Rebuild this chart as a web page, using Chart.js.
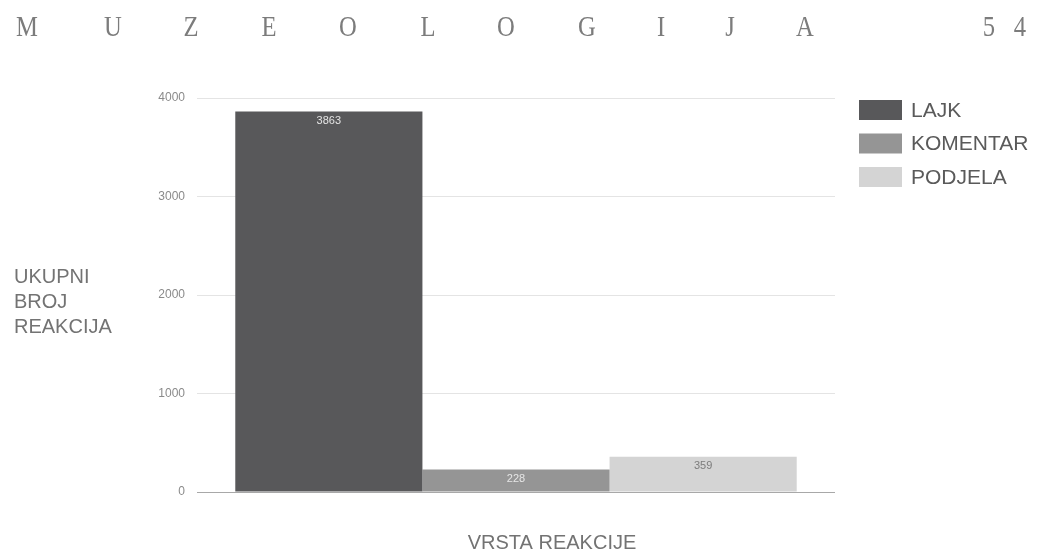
<!DOCTYPE html>
<html>
<head>
<meta charset="utf-8">
<script src="https://cdn.jsdelivr.net/npm/chart.js@4/dist/chart.umd.min.js"></script>
<style>
  html, body { margin: 0; padding: 0; background: #ffffff; }
  #wrap { position: relative; width: 1040px; height: 553px; overflow: hidden; background: #fff; }
  #c { position: absolute; left: 0; top: 0; }
  .hl { position: absolute; top: 9px; font-family: "Liberation Serif", "DejaVu Serif", serif; font-size: 29px; color: #7c7c7c; transform: translateX(-50%) scaleX(0.85); line-height: 34px; }
</style>
</head>
<body>
<div id="wrap">
  <canvas id="c" width="1040" height="553"></canvas>
  <div id="header"></div>
</div>
<script>
// ---- data ----
const headerLetters = ['M','U','Z','E','O','L','O','G','I','J','A','5','4'];
const categories = ['VRSTA REAKCIJE'];
const seriesLabels = ['LAJK', 'KOMENTAR', 'PODJELA'];
const lajk = [3863];
const komentar = [228];
const podjela = [359];
const yTicks = [0, 1000, 2000, 3000, 4000];
const yTitleLines = ['UKUPNI', 'BROJ', 'REAKCIJA'];
const xTitle = 'VRSTA REAKCIJE';

// ---- header (page running head) ----
const headerX = [27, 113, 191, 269, 348, 428, 506, 587, 661, 730, 805, 989, 1020];
const hdr = document.getElementById('header');
headerLetters.forEach((ch, i) => {
  const s = document.createElement('span');
  s.className = 'hl';
  s.textContent = ch;
  s.style.left = headerX[i] + 'px';
  hdr.appendChild(s);
});

const colors = ['#58585a', '#959595', '#d4d4d4'];
const labelColors = ['#e4e4e4', '#e6e6e6', '#7c7c7c'];
const FONT = '"Liberation Sans", Arial, sans-serif';

const extras = {
  id: 'extras',
  afterDatasetsDraw(chart) {
    const ctx = chart.ctx;
    ctx.save();
    ctx.font = '11px ' + FONT;
    ctx.textAlign = 'center';
    ctx.textBaseline = 'middle';
    chart.data.datasets.forEach((ds, di) => {
      const meta = chart.getDatasetMeta(di);
      meta.data.forEach((bar, i) => {
        ctx.fillStyle = labelColors[di];
        ctx.fillText(String(ds.data[i]), bar.x, bar.y + 9);
      });
    });
    ctx.restore();
  },
  afterDraw(chart) {
    const ctx = chart.ctx;
    ctx.save();
    // legend
    ctx.font = '21px ' + FONT;
    ctx.textAlign = 'left';
    ctx.textBaseline = 'middle';
    chart.data.datasets.forEach((ds, di) => {
      const y = 100 + di * 33.5;
      ctx.fillStyle = ds.backgroundColor;
      ctx.fillRect(859, y, 43, 20);
      ctx.fillStyle = '#5a5a5a';
      ctx.fillText(ds.label, 911, y + 11);
    });
    // y title (horizontal, multi-line)
    ctx.font = '20px ' + FONT;
    ctx.fillStyle = '#737373';
    ctx.textBaseline = 'alphabetic';
    yTitleLines.forEach((t, i) => ctx.fillText(t, 14, 283 + i * 25));
    // x title
    ctx.textAlign = 'center';
    ctx.fillText(xTitle, 552, 549);
    ctx.restore();
  }
};

new Chart(document.getElementById('c'), {
  type: 'bar',
  data: {
    labels: categories,
    datasets: [
      { label: seriesLabels[0], data: lajk, backgroundColor: colors[0] },
      { label: seriesLabels[1], data: komentar, backgroundColor: colors[1] },
      { label: seriesLabels[2], data: podjela, backgroundColor: colors[2] }
    ]
  },
  options: {
    responsive: false,
    animation: false,
    devicePixelRatio: 1,
    layout: { padding: { left: 0, right: 205, top: 98, bottom: 0 } },
    datasets: { bar: { categoryPercentage: 0.88, barPercentage: 1.0, borderWidth: 0 } },
    plugins: { legend: { display: false }, tooltip: { enabled: false } },
    scales: {
      x: {
        ticks: { display: false },
        grid: { display: false, drawTicks: false },
        border: { display: false },
        afterFit(scale) { scale.height = 61; }
      },
      y: {
        min: 0, max: 4000,
        afterBuildTicks(scale) { scale.ticks = yTicks.map(v => ({ value: v })); },
        ticks: {
          color: '#8a8a8a', font: { size: 12, family: FONT }, padding: 12,
          callback: v => String(v)
        },
        grid: {
          drawTicks: false,
          color: ctx => (ctx.tick && ctx.tick.value === 0) ? '#a8a8a8' : '#e4e4e4',
          lineWidth: 1
        },
        border: { display: false },
        afterFit(scale) { scale.width = 197; }
      }
    }
  },
  plugins: [extras]
});
</script>
</body>
</html>
